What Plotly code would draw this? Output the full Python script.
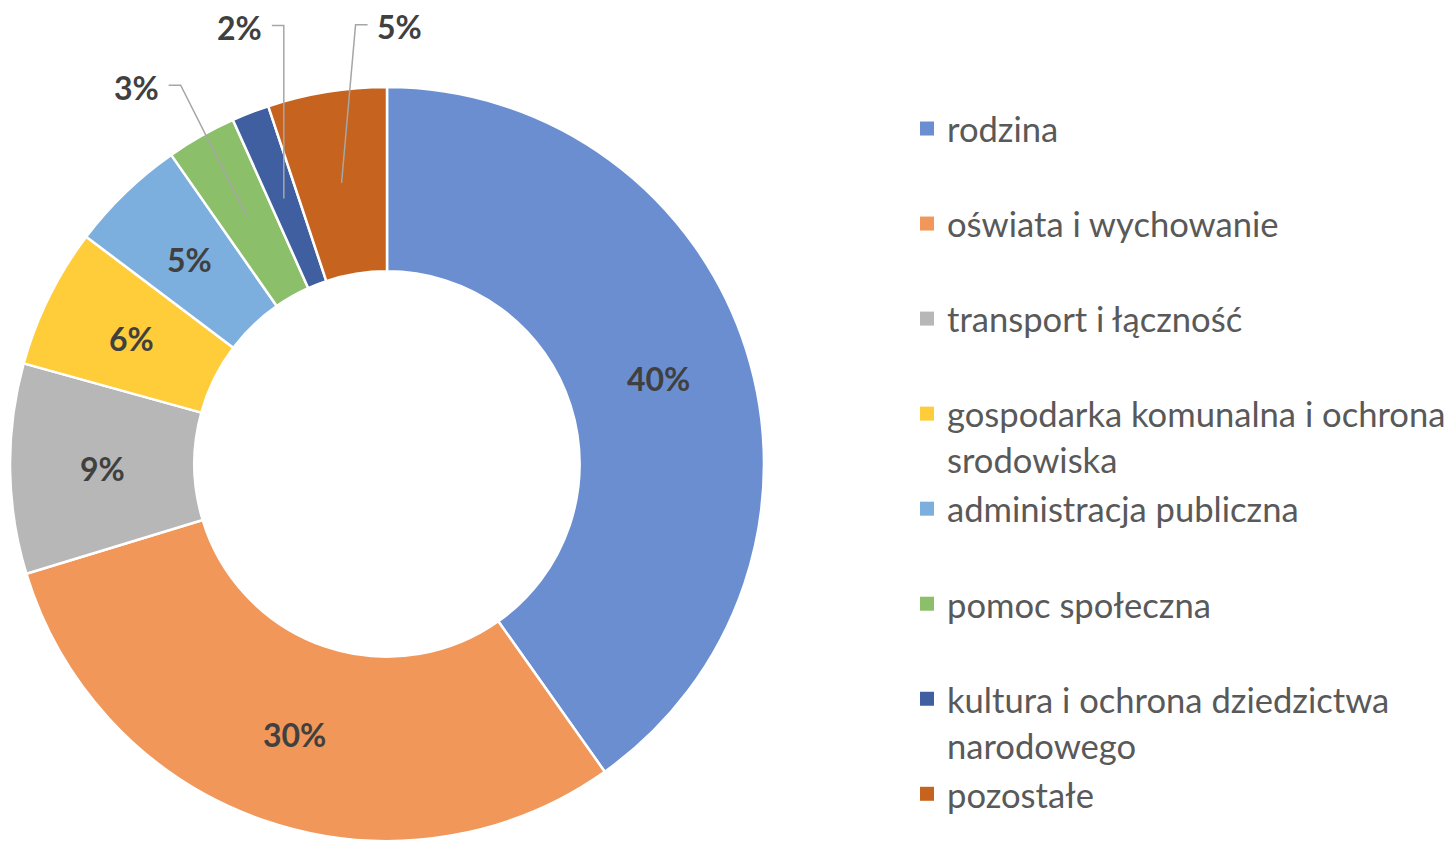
import math
import plotly.graph_objects as go

# ---- data ----
categories = [
    "rodzina",
    "oświata i wychowanie",
    "transport i łączność",
    "gospodarka komunalna i ochrona<br>srodowiska",
    "administracja publiczna",
    "pomoc społeczna",
    "kultura i ochrona dziedzictwa<br>narodowego",
    "pozostałe",
]
values = [40.2, 30.1, 9.0, 6.0, 5.0, 3.0, 1.6, 5.1]
colors = ["#6A8ED0", "#F09759", "#B7B7B7", "#FFCC3A", "#7CAFDD", "#8CBF6A", "#3F5FA0", "#C5631F"]
outside_idx = [5, 6, 7]                      # slices labelled outside with leader lines
label_offsets = {5: (-110, -129), 6: (-44, -171), 7: (58, -156)}  # px offsets of label from leader tip

# the page body has an 8px margin, so the figure is drawn 8px in from the window corner
OFF = 8
W, H = 1456 - OFF, 841 - OFF
PIE_CX, PIE_CY, PIE_R = 387 - OFF, 464 - OFF, 377   # figure pixels
dom_x = [(PIE_CX - PIE_R) / W, (PIE_CX + PIE_R) / W]
dom_y = [(H - PIE_CY - PIE_R) / H, (H - PIE_CY + PIE_R) / H]
hole = 0.511

total = sum(values)
pct_text = [f"{round(v / total * 100)}%" for v in values]
span_open = "<span style='font-size:34.6px'>"
legend_names = []
for k, c in enumerate(categories):
    name = span_open + c.replace("<br>", "</span><br>" + span_open) + "</span>"
    if "<br>" not in c and k < len(categories) - 1:
        name += "<br> "
    legend_names.append(name)

label_font = dict(family="Lato", size=32, color="#404040", weight="bold")

fig = go.Figure()
fig.add_trace(go.Pie(
    labels=categories,
    values=values,
    sort=False,
    direction="clockwise",
    rotation=0,
    hole=hole,
    domain=dict(x=dom_x, y=dom_y),
    marker=dict(colors=colors, line=dict(color="white", width=2.5)),
    textinfo="none",
    textposition="none",
    hoverinfo="skip",
    showlegend=False,
))

# legend entries (one per category, same colours as the slices)
for name, col in zip(legend_names, colors):
    fig.add_trace(go.Scatter(
        x=[None], y=[None], mode="markers", name=name,
        marker=dict(symbol="square", size=14, color=col),
        hoverinfo="skip",
    ))

# geometry derived from the pie domain
cx = (dom_x[0] + dom_x[1]) / 2 * W
cy = H - (dom_y[0] + dom_y[1]) / 2 * H
R = min((dom_x[1] - dom_x[0]) * W, (dom_y[1] - dom_y[0]) * H) / 2
r_mid = (R + hole * R) / 2

def px_to_paper(x, y):
    return x / W, 1 - y / H

shapes = []
annotations = []
cum = 0.0
for i, v in enumerate(values):
    mid = (cum + v / 2) / total * 2 * math.pi
    cum += v
    tx = cx + r_mid * math.sin(mid)
    ty = cy - r_mid * math.cos(mid)
    if i not in outside_idx:
        px, py = px_to_paper(tx, ty + 1)
        annotations.append(dict(
            x=px, y=py, xref="paper", yref="paper", showarrow=False,
            text=pct_text[i], xanchor="center", yanchor="middle", font=label_font,
        ))
        continue
    ox, oy = label_offsets[i]
    lx, ly = tx + ox, ty + oy
    half_w = 23
    if ox < 0:
        end_x = lx + half_w + 9
        elbow_x = end_x + 12
    else:
        end_x = lx - half_w - 9
        elbow_x = end_x - 12
    line_y = ly - 2
    p0 = px_to_paper(tx, ty)
    p1 = px_to_paper(elbow_x, line_y)
    p2 = px_to_paper(end_x, line_y)
    shapes.append(dict(
        type="path", xref="paper", yref="paper",
        path=f"M {p0[0]},{p0[1]} L {p1[0]},{p1[1]} L {p2[0]},{p2[1]}",
        line=dict(color="#A6A6A6", width=1.5),
    ))
    ax_, ay_ = px_to_paper(lx, ly)
    annotations.append(dict(
        x=ax_, y=ay_, xref="paper", yref="paper", showarrow=False,
        text=pct_text[i], xanchor="center", yanchor="middle", font=label_font,
    ))

fig.update_layout(
    width=W, height=H,
    margin=dict(l=0, r=0, t=0, b=0),
    paper_bgcolor="white",
    plot_bgcolor="white",
    xaxis=dict(visible=False),
    yaxis=dict(visible=False),
    shapes=shapes,
    annotations=annotations,
    showlegend=True,
    legend=dict(
        x=899 / W, y=1 - 91 / H, xanchor="left", yanchor="top",
        font=dict(family="Lato", size=35.4, color="#595959"),
        valign="top",
        bgcolor="rgba(0,0,0,0)",
        borderwidth=0,
        itemclick=False, itemdoubleclick=False,
    ),
)

fig.write_html("out.html")
